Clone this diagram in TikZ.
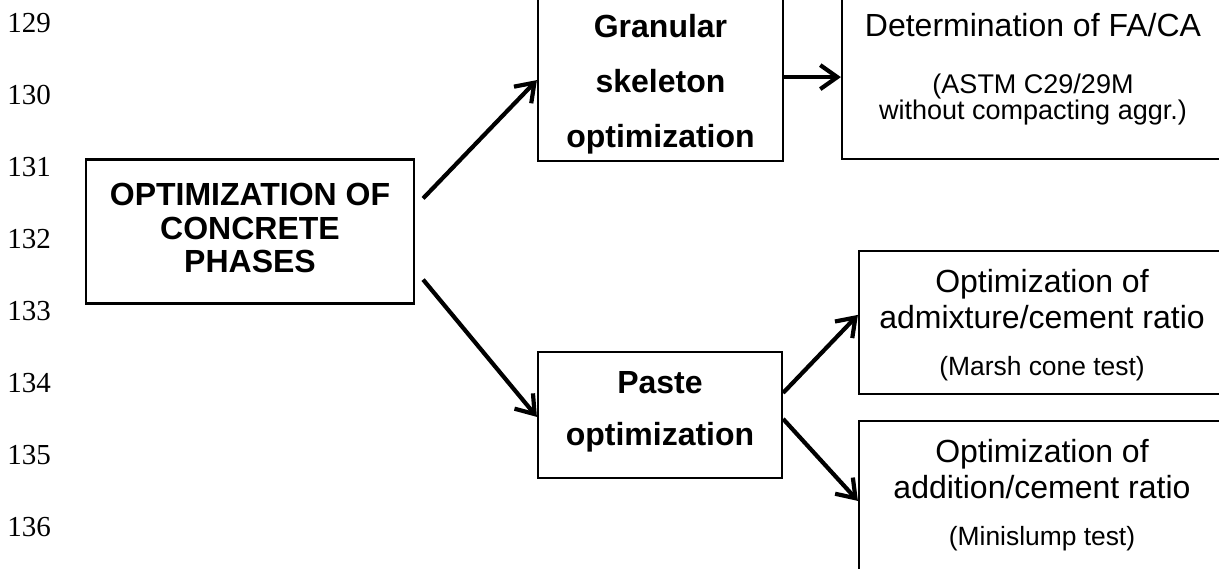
\documentclass[tikz,border=0pt]{standalone}
\usepackage{fontspec}
\setmainfont{Liberation Serif}
\newfontfamily\arialfont{Liberation Sans}
\usepackage{tikz}
\usetikzlibrary{arrows.meta, positioning, calc}

\newcommand{\testsz}{\fontsize{13.5pt}{13pt}\selectfont}
\newcommand{\conesz}{\fontsize{13.2pt}{14pt}\selectfont}

\tikzset{
  box/.style={draw, rectangle, line width=1.1pt, inner sep=0pt, align=center},
  boldtxt/.style={font=\arialfont\bfseries\fontsize{16pt}{#1}\selectfont},
  plaintxt/.style={font=\arialfont\fontsize{16pt}{#1}\selectfont},
  arr/.style={-{Straight Barb[length=8.5pt, width=12pt]}, line width=2.1pt},
  lnum/.style={anchor=base west, inner sep=0pt, font=\fontsize{14.5pt}{14.5pt}\selectfont}
}

\begin{document}
\begin{tikzpicture}[x=0.5pt, y=-0.5pt]
  \useasboundingbox (0,0) rectangle (1219,568);
  \clip (0,0) rectangle (1219,568);

  \foreach \n [count=\i from 0] in {129,...,136}
    \node[lnum] (n\n) at (7, 32+72.14*\i) {\n};

  \node[box, boldtxt=16.75pt, minimum width=164pt] (main) at (250,231.5)
    {\rule{0pt}{23pt}OPTIMIZATION OF\\CONCRETE\\PHASES\rule[-15.5pt]{0pt}{15.5pt}};
  \node[box, boldtxt=27.5pt, minimum width=122.5pt] (gran) at (660.5,60.5)
    {\rule{0pt}{38.5pt}Granular\\skeleton\\optimization\rule[-7pt]{0pt}{7pt}};
  \node[box, plaintxt=13pt, minimum width=191pt] (fa) at (1033,59.5)
    {\rule{0pt}{38pt}Determination of FA/CA\\[15.5pt]\testsz(ASTM C29/29M\\\testsz without compacting aggr.)\rule[-20pt]{0pt}{20pt}};
  \node[box, boldtxt=26pt, minimum width=122pt] (paste) at (660,415)
    {\rule{0pt}{20.5pt}Paste\\optimization\rule[-16.5pt]{0pt}{16.5pt}};
  \node[box, plaintxt=18pt, minimum width=183pt] (admix) at (1042,322.5)
    {\rule{0pt}{20.5pt}Optimization of\\admixture/cement ratio\\[5.5pt]\conesz(Marsh cone test)\rule[-9.5pt]{0pt}{9.5pt}};
  \node[box, plaintxt=18pt, minimum width=183pt] (addit) at (1042,520.5)
    {\rule{0pt}{20.5pt}Optimization of\\addition/cement ratio\\[5.5pt]\conesz(Minislump test)\rule[-37.5pt]{0pt}{37.5pt}};

  \draw[arr] ($(main.north east)+(8,40)$) -- ($(gran.south west)+(0,-82)$);
  \draw[arr] ($(main.south east)+(8,-25)$) -- ($(paste.north west)+(0,66)$);
  \draw[arr] ($(gran.south east)+(0,-85)$) -- ($(fa.south west)+(0,-83)$);
  \draw[arr] ($(paste.north east)+(0,42)$) -- ($(admix.north west)+(0,65)$);
  \draw[arr] ($(paste.north east)+(0,68)$) -- ($(addit.north west)+(0,81)$);
\end{tikzpicture}
\end{document}
